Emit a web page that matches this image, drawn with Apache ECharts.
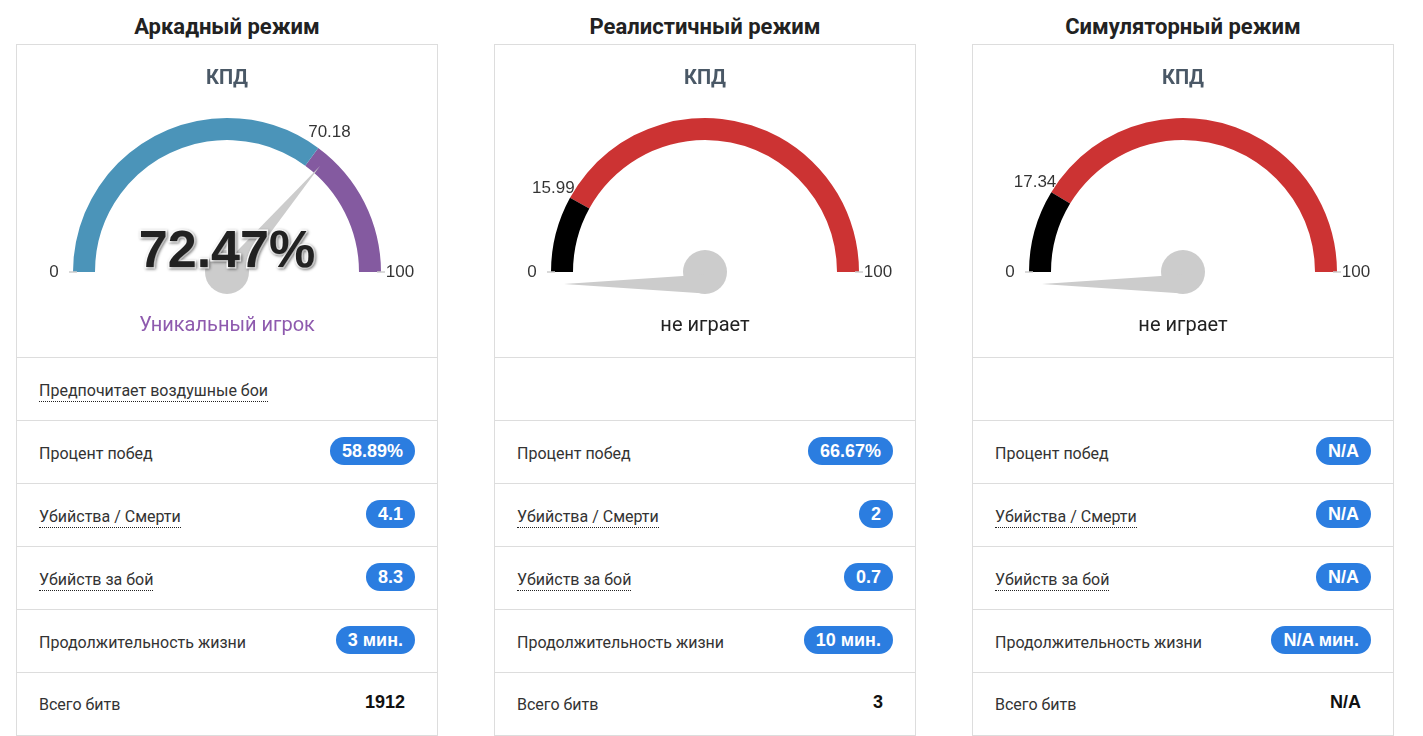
<html>
    <head>
        <title>КПД</title>
        <meta charset="UTF-8">
        <script src="https://cdn.jsdelivr.net/npm/echarts@6/dist/echarts.min.js"></script>
        <style>
            body { margin: 0; background: #fff; font-family: Roboto, 'Liberation Sans', sans-serif; color: #222; }
            .panel { position: absolute; top: 0; width: 422px; }
            .ptitle { height: 44px; line-height: 54px; text-align: center; font-weight: bold; font-size: 22px; color: #222; }
            .box { border: 1px solid #ddd; border-bottom: none; box-sizing: border-box; }
            .gauge { width: 420px; height: 312px; }
            .row { height: 63px; border-top: 1px solid #ddd; box-sizing: border-box; position: relative; }
            .row .lbl { position: absolute; left: 22px; top: 24px; font-size: 16px; color: #333; line-height: 18px; }
            .row .lbl.dot { border-bottom: 1px dotted #222; padding-bottom: 1px; }
            .row .badge { position: absolute; right: 22px; top: 16px; height: 28px; line-height: 28px; padding: 0 12px;
                border-radius: 14px; background: #2b7de0; color: #fff; font-weight: bold; font-size: 18px; font-family: 'Liberation Sans', Arial, sans-serif; }
            .row .plain { position: absolute; right: 32px; top: 15px; line-height: 28px; font-weight: bold; font-size: 18px; color: #111; font-family: 'Liberation Sans', Arial, sans-serif; }
            .row.last { height: 64px; border-bottom: 1px solid #ddd; }
        </style>
    </head>
    <body>

        <div id="page"></div>

<script>

// режимы и значения КПД
var modes = ['Аркадный режим', 'Реалистичный режим', 'Симуляторный режим'];
var kpdValues = [72.47, 0, 0];
var kpdBounds = [70.18, 15.99, 17.34];
var kpdStatus = ['Уникальный игрок', 'не играет', 'не играет'];
var showValue = [true, false, false];

// статистика
var preference = ['Предпочитает воздушные бои', '', ''];
var winRate = ['58.89%', '66.67%', 'N/A'];
var kdRatio = ['4.1', '2', 'N/A'];
var killsPerBattle = ['8.3', '0.7', 'N/A'];
var lifetime = ['3 мин.', '10 мин.', 'N/A мин.'];
var totalBattles = ['1912', '3', 'N/A'];

var lowColors = ['#4b94b9', '#000000', '#000000'];
var highColors = ['#845aa0', '#cc3333', '#cc3333'];
var statusColors = ['#8e5aae', '#222222', '#222222'];
var pointerShift = [2, -12, -12];
var lefts = [16, 494, 972];

var page = document.getElementById('page');

for (var i = 0; i < modes.length; i++) {
    var html = '<div class="ptitle">' + modes[i] + '</div>' +
        '<div class="box"><div class="gauge" id="g' + i + '"></div>' +
        '<div class="row">' + (preference[i] ? '<span class="lbl dot">' + preference[i] + '</span>' : '') + '</div>' +
        '<div class="row"><span class="lbl">Процент побед</span><span class="badge">' + winRate[i] + '</span></div>' +
        '<div class="row"><span class="lbl dot">Убийства / Смерти</span><span class="badge">' + kdRatio[i] + '</span></div>' +
        '<div class="row"><span class="lbl dot">Убийств за бой</span><span class="badge">' + killsPerBattle[i] + '</span></div>' +
        '<div class="row"><span class="lbl">Продолжительность жизни</span><span class="badge">' + lifetime[i] + '</span></div>' +
        '<div class="row last"><span class="lbl" style="top:23px">Всего битв</span><span class="plain">' + totalBattles[i] + '</span></div>' +
        '</div>';
    var p = document.createElement('div');
    p.className = 'panel';
    p.style.left = lefts[i] + 'px';
    p.innerHTML = html;
    page.appendChild(p);
}

for (var k = 0; k < modes.length; k++) {
    var myChart = echarts.init(document.getElementById('g' + k));
    var cy = 227;
    var option = {
        animation: false,
        title: {
            text: 'КПД',
            left: 'center',
            top: 19,
            textStyle: { fontSize: 20, fontWeight: 'bold', color: '#4a5866', fontFamily: 'Roboto' }
        },
        polar: { center: ['50%', cy], radius: 200 },
        angleAxis: { type: 'value', min: 0, max: 200, startAngle: 180, clockwise: true, show: false },
        radiusAxis: { type: 'value', min: 0, max: 200, show: false },
        series: [
            {
                type: 'gauge',
                z: 2,
                center: ['50%', cy],
                radius: 154,
                startAngle: 180,
                endAngle: 0,
                min: 0,
                max: 100,
                splitNumber: 1,
                axisLine: {
                    lineStyle: {
                        width: 22,
                        color: [[kpdBounds[k] / 100, lowColors[k]], [1, highColors[k]]]
                    }
                },
                splitLine: { distance: -26, length: 8, lineStyle: { color: '#ccc', width: 1.5 } },
                axisTick: { show: false },
                axisLabel: { show: false },
                pointer: {
                    icon: 'path://M0,100 L5,0 L10,100 Z',
                    length: 141,
                    width: 19,
                    offsetCenter: [pointerShift[k], 0],
                    itemStyle: { color: '#cccccc' }
                },
                anchor: { show: true, size: 44, itemStyle: { color: '#cccccc' } },
                title: {
                    offsetCenter: [0, 54],
                    fontSize: 20,
                    color: statusColors[k],
                    fontFamily: 'Roboto'
                },
                detail: { show: false },
                data: [{ value: kpdValues[k], name: kpdStatus[k] }]
            },
            {
                // значение поверх стрелки
                type: 'gauge',
                z: 5,
                center: ['50%', cy],
                radius: 154,
                startAngle: 180,
                endAngle: 0,
                min: 0,
                max: 100,
                axisLine: { show: false },
                splitLine: { show: false },
                axisTick: { show: false },
                axisLabel: { show: false },
                pointer: { show: false },
                anchor: { show: false },
                title: { show: false },
                detail: {
                    show: showValue[k],
                    offsetCenter: [0, -19],
                    formatter: '{value}%',
                    fontSize: 52,
                    lineHeight: 56,
                    width: 220,
                    fontWeight: 'bold',
                    fontFamily: 'Liberation Sans',
                    color: '#222',
                    textBorderColor: '#fff',
                    textBorderWidth: 3,
                    textShadowColor: 'rgba(0,0,0,0.4)',
                    textShadowBlur: 3,
                    textShadowOffsetX: 1,
                    textShadowOffsetY: 1
                },
                data: [{ value: kpdValues[k] }]
            },
            {
                // подписи шкалы
                type: 'scatter',
                coordinateSystem: 'polar',
                symbolSize: 0,
                silent: true,
                label: {
                    show: true,
                    position: 'inside',
                    fontSize: 17,
                    color: '#000',
                    textBorderWidth: 0,
                    fontFamily: 'Liberation Sans',
                    formatter: function (p) { return p.value[1]; }
                },
                data: [[173, 0], [173, kpdBounds[k]], [173, 100]]
            }
        ]
    };
    myChart.setOption(option);
}

</script>
</body>
</html>
